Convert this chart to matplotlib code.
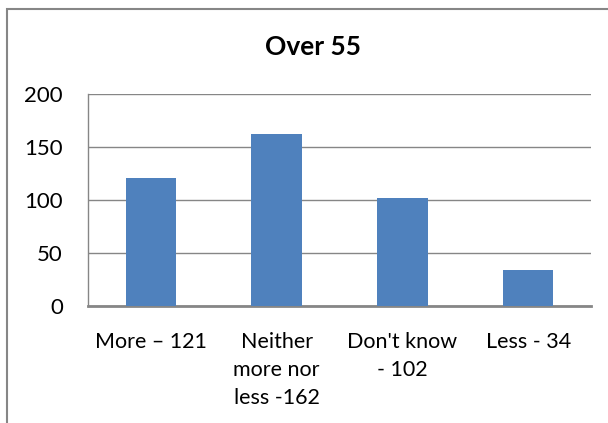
import matplotlib
matplotlib.use("Agg")
import matplotlib.pyplot as plt
from matplotlib.patches import Rectangle

# Survey answers for the over-55 group
categories = ["More \u2013 121", "Neither\nmore nor\nless -162", "Don't know\n- 102", "Less - 34"]
counts = [121, 162, 102, 34]
y_ticks = [0, 50, 100, 150, 200]

bar_color = "#4F81BD"
grey = "#868686"

plt.rcParams["font.family"] = ["Lato", "DejaVu Sans"]

fig = plt.figure(figsize=(6.08, 4.23), dpi=100)
W, H = 608, 423
ax = fig.add_axes([88 / W, 1 - 306 / H, (591 - 88) / W, (306 - 94) / H])

x = range(len(categories))
ax.bar(x, counts, width=0.4, color=bar_color, zorder=3)

ax.set_xlim(-0.5, len(categories) - 0.5)
ax.set_ylim(0, 200)
ax.set_yticks(y_ticks)
ax.set_yticklabels([str(v) for v in y_ticks], fontsize=16)
ax.set_xticks(list(x))
ax.set_xticklabels(categories, fontsize=15.5, linespacing=1.5)
ax.tick_params(axis="both", length=0, colors="black")
ax.tick_params(axis="y", pad=18)
ax.tick_params(axis="x", pad=19)

ax.yaxis.grid(True, color=grey, linewidth=1.0, zorder=0)
for side in ["top", "right"]:
    ax.spines[side].set_visible(False)
ax.spines["left"].set_color(grey)
ax.spines["left"].set_linewidth(1.0)
ax.spines["bottom"].set_color(grey)
ax.spines["bottom"].set_linewidth(2.0)

fig.text(313 / W, 1 - 47 / H, "Over 55", ha="center", va="center",
         fontsize=19, fontweight="bold")

# chart border (runs off the right and bottom edges)
fig.patches.append(Rectangle((7 / W, -0.1), 1.2, 1 - 9 / H + 0.1,
                             transform=fig.transFigure, fill=False,
                             edgecolor=grey, linewidth=1.5))

fig.savefig("out.png", dpi=100)
